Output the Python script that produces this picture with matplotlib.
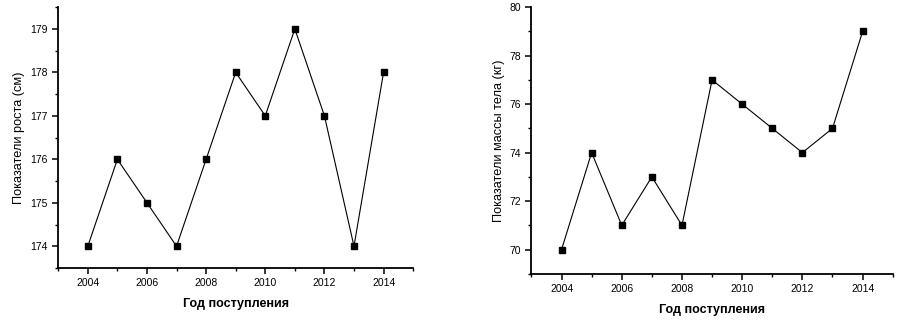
import numpy as np
import matplotlib as mpl
mpl.use("Agg")
from matplotlib import pyplot as plt
from matplotlib.ticker import MultipleLocator

mpl.rcParams.update({
    "font.family": ["Liberation Sans", "DejaVu Sans"],
    "xtick.direction": "out",
    "ytick.direction": "out",
})

years = [2004, 2005, 2006, 2007, 2008, 2009, 2010, 2011, 2012, 2013, 2014]
height_cm = [174, 176, 175, 174, 176, 178, 177, 179, 177, 174, 178]
weight_kg = [70, 74, 71, 73, 71, 77, 76, 75, 74, 75, 79]


def style_axes(ax, ylim, ymajor, yminor):
    ax.spines["top"].set_visible(False)
    ax.spines["right"].set_visible(False)
    ax.spines["left"].set_linewidth(1.3)
    ax.spines["bottom"].set_linewidth(1.3)
    ax.set_xlim(2003, 2015)
    ax.set_ylim(*ylim)
    ax.xaxis.set_major_locator(MultipleLocator(2))
    ax.xaxis.set_minor_locator(MultipleLocator(1))
    ax.yaxis.set_major_locator(MultipleLocator(ymajor))
    ax.yaxis.set_minor_locator(MultipleLocator(yminor))
    ax.tick_params(which="major", length=4, width=1.1, labelsize=7.5, colors="black")
    ax.tick_params(which="minor", length=2.5, width=1.0)
    ax.set_xlabel("Год поступления", fontsize=9, fontweight="bold", labelpad=7)


fig = plt.figure(figsize=(9.1, 3.26), dpi=100)

ax = fig.add_axes([0.064, 0.178, 0.390, 0.800])
ax.plot(years, height_cm, "k-", linewidth=0.8, marker="s", markersize=4)
style_axes(ax, (173.5, 179.5), 1, 0.5)
ax.set_ylabel("Показатели роста (см)", fontsize=9.2, labelpad=4)

ax = fig.add_axes([0.584, 0.160, 0.397, 0.818])
ax.plot(years, weight_kg, "k-", linewidth=0.8, marker="s", markersize=4)
style_axes(ax, (69, 80), 2, 1)
ax.set_ylabel("Показатели массы тела (кг)", fontsize=9.2, labelpad=3)

fig.savefig("out.png", dpi=100)
